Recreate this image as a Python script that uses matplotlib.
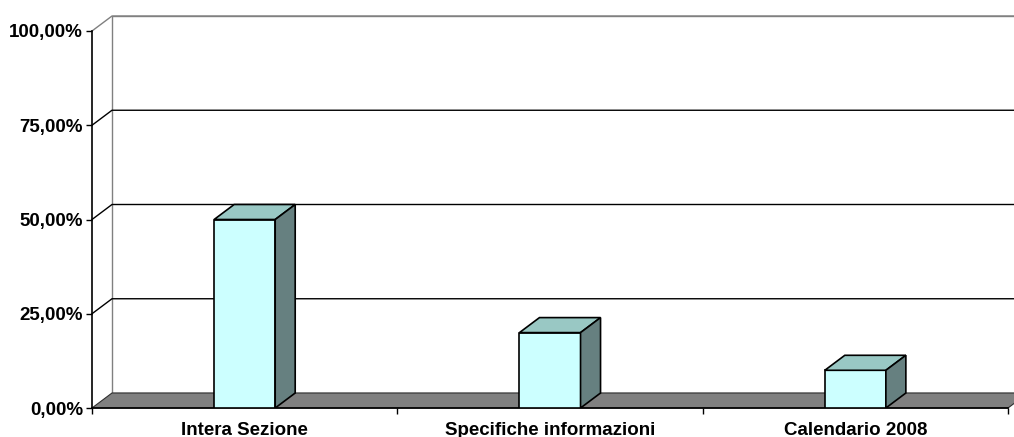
import matplotlib.pyplot as plt
from matplotlib.patches import Polygon, Rectangle
from matplotlib.ticker import FuncFormatter

categories = ["Intera Sezione", "Specifiche informazioni", "Calendario 2008"]
values = [50, 20, 10]
y_ticks = [0, 25, 50, 75, 100]

plt.rcParams['font.family'] = ['Liberation Sans', 'DejaVu Sans']
plt.rcParams['font.weight'] = 'bold'

fig = plt.figure(figsize=(10.14, 4.37), dpi=100)
ax = fig.add_axes([92 / 1014, 29 / 437, 916 / 1014, 377 / 437])
n = len(categories)
ax.set_xlim(0, n)
ax.set_ylim(0, 100)
ax.patch.set_visible(False)

# depth of the fake 3D box: 20 px to the right, 15 px up
bbox = ax.get_position()
w_px = bbox.width * fig.get_figwidth() * fig.dpi
h_px = bbox.height * fig.get_figheight() * fig.dpi
dx = 20 * n / w_px
dy = 15 * 100 / h_px

wall_grey = '#808080'

# back wall
ax.add_patch(Rectangle((dx, dy), n, 100, fc='white', ec=wall_grey, lw=1,
                       zorder=0, clip_on=False))
# gridlines across side wall and back wall
for v in y_ticks[1:]:
    c = wall_grey if v == 100 else 'black'
    ax.plot([0, dx, n + dx], [v, v + dy, v + dy], color=c, lw=1,
            zorder=0.5, clip_on=False)

# floor
ax.add_patch(Polygon([(0, 0), (n, 0), (n + dx, dy), (dx, dy)], closed=True,
                     fc=wall_grey, ec='#303030', lw=0.8, zorder=1, clip_on=False))

# columns
xs = [i + 0.5 for i in range(n)]
bw = 0.2
ax.bar(xs, values, width=bw, color='#CCFFFF', edgecolor='black', lw=1.2, zorder=4)
for x, v in zip(xs, values):
    x0, x1 = x - bw / 2, x + bw / 2
    ax.add_patch(Polygon([(x0, v), (x1, v), (x1 + dx, v + dy), (x0 + dx, v + dy)],
                         closed=True, fc='#99C8C4', ec='black', lw=1.2, zorder=4))
    ax.add_patch(Polygon([(x1, 0), (x1 + dx, dy), (x1 + dx, v + dy), (x1, v)],
                         closed=True, fc='#668080', ec='black', lw=1.2, zorder=4))

# axes
for s in ['top', 'right']:
    ax.spines[s].set_visible(False)
for s in ['left', 'bottom']:
    ax.spines[s].set_linewidth(1.2)
    ax.spines[s].set_zorder(3)

ax.set_xticks(range(n + 1))
ax.set_xticklabels([])
ax.set_xticks(xs, minor=True)
ax.set_xticklabels(categories, minor=True, fontsize=13.5, fontweight='bold')
ax.tick_params(axis='x', which='major', length=4, width=1, direction='out')
ax.tick_params(axis='x', which='minor', length=0, pad=10)

ax.set_yticks(y_ticks)
ax.yaxis.set_major_formatter(FuncFormatter(lambda v, p: f"{v:.2f}%".replace('.', ',')))
ax.tick_params(axis='y', length=4.5, width=1, direction='out', pad=2, labelsize=13.5)
for t in ax.get_yticklabels():
    t.set_fontweight('bold')

fig.savefig('out.png', dpi=100)
